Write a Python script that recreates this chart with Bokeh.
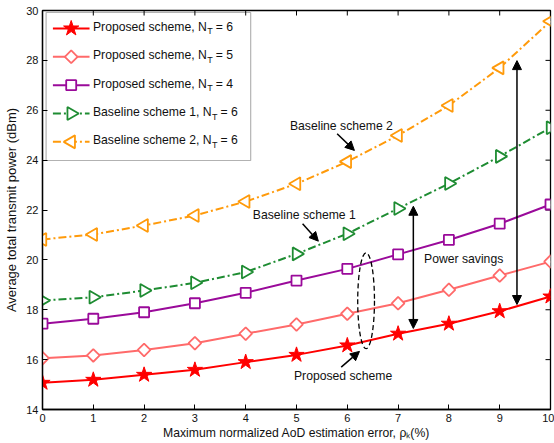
import math
from bokeh.plotting import figure
from bokeh.models import (Range1d, FixedTicker, Label, Arrow, NormalHead, BoxAnnotation)
from bokeh.embed import file_html
from bokeh.resources import INLINE

# ---------------- data ----------------
error_pct = [0, 1, 2, 3, 4, 5, 6, 7, 8, 9, 10]
proposed_nt6 = [15.07, 15.19, 15.39, 15.59, 15.90, 16.19, 16.57, 17.04, 17.44, 17.94, 18.53]
proposed_nt5 = [16.06, 16.17, 16.39, 16.66, 17.04, 17.41, 17.84, 18.26, 18.80, 19.37, 19.93]
proposed_nt4 = [17.44, 17.64, 17.90, 18.26, 18.68, 19.17, 19.64, 20.22, 20.80, 21.45, 22.22]
baseline1_nt6 = [18.37, 18.50, 18.77, 19.08, 19.51, 20.24, 21.05, 22.06, 23.06, 24.15, 25.30]
baseline2_nt6 = [20.82, 21.02, 21.38, 21.78, 22.34, 23.05, 23.94, 24.99, 26.19, 27.70, 29.57]

x_ticks = [0, 1, 2, 3, 4, 5, 6, 7, 8, 9, 10]
y_ticks = [14, 16, 18, 20, 22, 24, 26, 28, 30]

legend_names = ["Proposed scheme, N", "Proposed scheme, N", "Proposed scheme, N",
                "Baseline scheme 1, N", "Baseline scheme 2, N"]
legend_sub = "T"
legend_suffix = ["= 6", "= 5", "= 4", "= 6", "= 6"]

x_label = "Maximum normalized AoD estimation error, \u03c1\u2096(%)"
y_label = "Average total transmit power (dBm)"

# ---------------- style ----------------
FONT = "Liberation Sans"
FS = 12.2
RED = "#FF0000"
PINK = "#FF6A6A"
PURPLE = "#9A0A9A"
GREEN = "#1E8C32"
ORANGE = "#FF9A0A"
DASHDOT = "8 3 2 3"
TXT = "#111111"

# Arial / Liberation Sans advance widths (per 1000 em)
W = {' ': 278, ',': 278, '(': 333, ')': 333, '%': 889, '=': 584,
     'A': 667, 'B': 667, 'D': 722, 'M': 833, 'N': 722, 'P': 667, 'T': 611,
     'a': 556, 'b': 556, 'c': 500, 'd': 556, 'e': 556, 'g': 556, 'h': 556,
     'i': 222, 'k': 500, 'l': 222, 'm': 833, 'n': 556, 'o': 556, 'p': 556,
     'r': 333, 's': 500, 't': 278, 'u': 556, 'v': 500, 'w': 722, 'x': 500,
     'z': 500}


def tw(s, size):
    return sum(W.get(c, 556) for c in s) * size / 1000.0


p = figure(width=554, height=443, output_backend="svg", toolbar_location=None,
           x_range=Range1d(0, 10), y_range=Range1d(14, 30),
           min_border_left=42, min_border_right=4, min_border_top=10,
           min_border_bottom=34)
p.background_fill_color = "white"
p.border_fill_color = "white"
p.outline_line_color = "black"
p.outline_line_width = 1.3
p.xgrid.visible = False
p.ygrid.visible = False

for ax, ticks in ((p.xaxis[0], x_ticks), (p.yaxis[0], y_ticks)):
    ax.ticker = FixedTicker(ticks=ticks)
    ax.major_tick_in = 5
    ax.major_tick_out = 0
    ax.minor_tick_in = 0
    ax.minor_tick_out = 0
    ax.axis_line_width = 1.3
    ax.axis_line_color = "black"
    ax.major_tick_line_color = "black"
    ax.major_label_text_font = FONT
    ax.major_label_text_font_size = "11px"
    ax.major_label_text_color = TXT
    ax.axis_label_text_font = FONT
    ax.axis_label_text_font_style = "normal"
    ax.axis_label_text_color = TXT

p.xaxis.major_label_standoff = 4
p.yaxis.major_label_standoff = 4
p.xaxis.axis_label = x_label
p.xaxis.axis_label_text_font_size = f"{FS}px"
p.xaxis.axis_label_standoff = 1
p.yaxis.axis_label = y_label
p.yaxis.axis_label_text_font_size = "13px"
p.yaxis.axis_label_standoff = 4

# mirrored inward ticks on top and right edges (half of each dash is clipped)
p.scatter(x_ticks, [p.y_range.end] * len(x_ticks), marker="dash", angle=math.pi / 2,
          size=10, line_color="black", line_width=1)
p.scatter([p.x_range.end] * len(y_ticks), y_ticks, marker="dash",
          size=10, line_color="black", line_width=1)

# ---------------- series ----------------
p.line(error_pct, baseline2_nt6, line_color=ORANGE, line_width=2, line_dash=DASHDOT)
p.scatter(error_pct, baseline2_nt6, marker="triangle", angle=math.pi / 2, size=13,
          line_color=ORANGE, fill_color="white", line_width=1.8)
p.line(error_pct, baseline1_nt6, line_color=GREEN, line_width=2, line_dash=DASHDOT)
p.scatter(error_pct, baseline1_nt6, marker="triangle", angle=-math.pi / 2, size=13,
          line_color=GREEN, fill_color="white", line_width=1.8)
p.line(error_pct, proposed_nt4, line_color=PURPLE, line_width=2)
p.scatter(error_pct, proposed_nt4, marker="square", size=10,
          line_color=PURPLE, fill_color="white", line_width=1.8)
p.line(error_pct, proposed_nt5, line_color=PINK, line_width=2)
p.scatter(error_pct, proposed_nt5, marker="square", angle=math.pi / 4, size=9,
          line_color=PINK, fill_color="white", line_width=1.8)
p.line(error_pct, proposed_nt6, line_color=RED, line_width=2)
p.scatter(error_pct, proposed_nt6, marker="star", size=16,
          line_color=RED, fill_color=RED, line_width=1)

# ---------------- annotations ----------------
def txt(s, x, y, size=FS, xo=0, yo=0, align="left"):
    p.add_layout(Label(x=x, y=y, text=s, x_offset=xo, y_offset=yo,
                       text_font=FONT, text_font_size=f"{size}px",
                       text_color=TXT, text_baseline="middle",
                       text_align=align))


def arrow(x0, y0, x1, y1, both=False):
    p.add_layout(Arrow(x_start=x0, y_start=y0, x_end=x1, y_end=y1,
                       line_width=1.5, line_color="black",
                       end=NormalHead(size=9, fill_color="black", line_color="black"),
                       start=(NormalHead(size=9, fill_color="black", line_color="black")
                              if both else None)))


txt("Baseline scheme 2", 4.87, 25.35)
arrow(5.80, 25.06, 6.14, 24.39)
txt("Baseline scheme 1", 4.14, 21.78)
arrow(5.12, 21.45, 5.43, 20.75)
txt("Power savings", 7.51, 20.02)
txt("Proposed scheme", 4.95, 15.34)
arrow(5.88, 15.70, 6.24, 16.33)
arrow(7.30, 22.15, 7.30, 17.25, both=True)
arrow(9.34, 27.99, 9.34, 18.21, both=True)
p.ellipse(x=6.37, y=18.36, width=0.33, height=3.85, fill_color=None,
          line_color="black", line_dash="5 3", line_width=1.3)

# ---------------- legend (manual, with subscripts) ----------------
px_y = 16.0 / 399.0     # data units per screen pixel (y)
p.add_layout(BoxAnnotation(left=0.071, right=4.098, bottom=23.985, top=29.92,
                           fill_color="white", fill_alpha=1.0,
                           line_color="black", line_width=1.2, level="underlay"))
leg_styles = [
    (RED, None, "star", 0, 16, RED),
    (PINK, None, "square", math.pi / 4, 9, "white"),
    (PURPLE, None, "square", 0, 10, "white"),
    (GREEN, DASHDOT, "triangle", -math.pi / 2, 13, "white"),
    (ORANGE, DASHDOT, "triangle", math.pi / 2, 13, "white"),
]
row0 = 29.28
row_step = 28.35 * px_y
text_x = 0.993
for i, (col, dash, mk, ang, sz, fill) in enumerate(leg_styles):
    yy = row0 - i * row_step
    p.line([0.205, 0.926], [yy, yy], line_color=col, line_width=2,
           line_dash=dash if dash else "solid")
    p.scatter([0.565], [yy], marker=mk, angle=ang, size=sz, line_color=col,
              fill_color=fill, line_width=1.8 if mk != "star" else 1)
    name = legend_names[i]
    txt(name, text_x, yy, yo=1.5)
    wn = tw(name, FS)
    txt(legend_sub, text_x, yy, size=9, xo=wn + 0.3, yo=-3)
    txt(legend_suffix[i], text_x, yy, xo=wn + tw(legend_sub, 9) + 3.5, yo=1.5)

open("out.html", "w").write(file_html(p, INLINE))
